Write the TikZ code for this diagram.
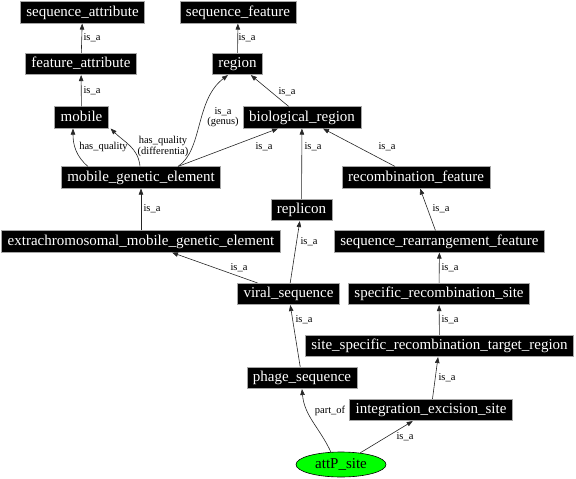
\documentclass[tikz,border=0pt]{standalone}
\usepackage{fontspec}
\setmainfont{Liberation Serif}
\usetikzlibrary{arrows.meta,shapes.geometric}

\definecolor{termgreen}{RGB}{0,255,0}

\tikzset{
    term/.style={fill=black, draw=gray!70, line width=0.6pt, text=white,
        font=\fontsize{15}{18}\selectfont, inner xsep=6pt, inner ysep=3.5pt,
        text height=11pt, text depth=3.5pt},
    leaf/.style={ellipse, fill=termgreen, draw=black, line width=0.6pt,
        font=\fontsize{15}{18}\selectfont, minimum width=90pt, minimum height=25pt, inner sep=0pt},
    rel/.style={draw=black!85, line width=0.6pt, -{Triangle[length=6pt,width=4.5pt]}},
    lbl/.style={font=\fontsize{10.5}{9.5}\selectfont, align=center, inner sep=0pt}
}

\begin{document}
\begin{tikzpicture}[x=1pt, y=-1pt]
        \useasboundingbox (0,0) rectangle (576,479);

        % ==========================================
        % Terminos
        % ==========================================
        \node[term] (seqattr)    at (82.5, 12.5) {sequence\_attribute};
        \node[term] (seqfeat)    at (238, 12.5)  {sequence\_feature};
        \node[term] (featattr)   at (81, 64)     {feature\_attribute};
        \node[term] (region)     at (237.5, 64)  {region};
        \node[term] (mobile)     at (81.5, 117.5) {mobile};
        \node[term] (bioregion)  at (302, 117.5) {biological\_region};
        \node[term] (mge)        at (141, 177.5) {mobile\_genetic\_element};
        \node[term] (recombfeat) at (416, 177.5) {recombination\_feature};
        \node[term] (replicon)   at (301.5, 210) {replicon};
        \node[term] (extramge)   at (141, 241.5) {extrachromosomal\_mobile\_genetic\_element};
        \node[term] (seqrearr)   at (439.5, 241.5) {sequence\_rearrangement\_feature};
        \node[term] (viralseq)   at (288.5, 294) {viral\_sequence};
        \node[term] (specrecomb) at (439, 294)   {specific\_recombination\_site};
        \node[term] (sitetarget) at (439.5, 346) {site\_specific\_recombination\_target\_region};
        \node[term] (phageseq)   at (302, 378)   {phage\_sequence};
        \node[term] (intexcis)   at (431, 410)   {integration\_excision\_site};
        \node[leaf] (attp)       at (341, 464.5) {attP\_site};

        % ==========================================
        % Relaciones
        % ==========================================
        \draw[rel] (featattr) -- (seqattr) node[lbl] at (92, 38) {is\_a};
        \draw[rel] (region) -- (seqfeat) node[lbl] at (247, 38) {is\_a};
        \draw[rel] (mobile) -- (featattr) node[lbl] at (92, 91) {is\_a};
        \draw[rel] (bioregion) -- (region) node[lbl] at (287, 92) {is\_a};

        % mobile_genetic_element
        \draw[rel] ([xshift=-53pt]mge.north) to[out=140, in=-90] ([xshift=-8.5pt]mobile.south)
            node[lbl] at (103.5, 147) {has\_quality};
        \draw[rel] ([xshift=-1pt]mge.north) to[out=95, in=-45] ([xshift=2pt]mobile.south east)
            node[lbl] at (163, 146.5) {has\_quality\\(differentia)};
        \draw[rel] ([xshift=37pt]mge.north) .. controls (203, 150) and (195, 100) .. ([xshift=-9.5pt]region.south)
            node[lbl] at (223, 117) {is\_a\\(genus)};
        \draw[rel] ([xshift=37pt]mge.north) -- ([xshift=-24pt]bioregion.south)
            node[lbl] at (264, 147) {is\_a};

        \draw[rel] (replicon) -- (bioregion) node[lbl] at (313, 147) {is\_a};
        \draw[rel] (recombfeat) -- (bioregion) node[lbl] at (387, 147) {is\_a};
        \draw[rel] (extramge) -- (mge) node[lbl] at (152, 209) {is\_a};
        \draw[rel] (seqrearr) -- (recombfeat) node[lbl] at (441, 209) {is\_a};
        \draw[rel] (viralseq) -- (extramge) node[lbl] at (239, 268) {is\_a};
        \draw[rel] (viralseq) -- (replicon) node[lbl] at (309, 242) {is\_a};
        \draw[rel] (specrecomb) -- (seqrearr) node[lbl] at (450, 268) {is\_a};
        \draw[rel] (sitetarget) -- (specrecomb) node[lbl] at (450, 320) {is\_a};
        \draw[rel] (phageseq) -- (viralseq) node[lbl] at (304, 320) {is\_a};
        \draw[rel] (intexcis) -- (sitetarget) node[lbl] at (447, 378) {is\_a};

        % attP_site
        \draw[rel] (attp.129) to[out=115, in=-85] (phageseq.south)
            node[lbl] at (330, 411) {part\_of};
        \draw[rel] (attp) -- (intexcis) node[lbl] at (405, 437) {is\_a};

    \end{tikzpicture}
\end{document}
